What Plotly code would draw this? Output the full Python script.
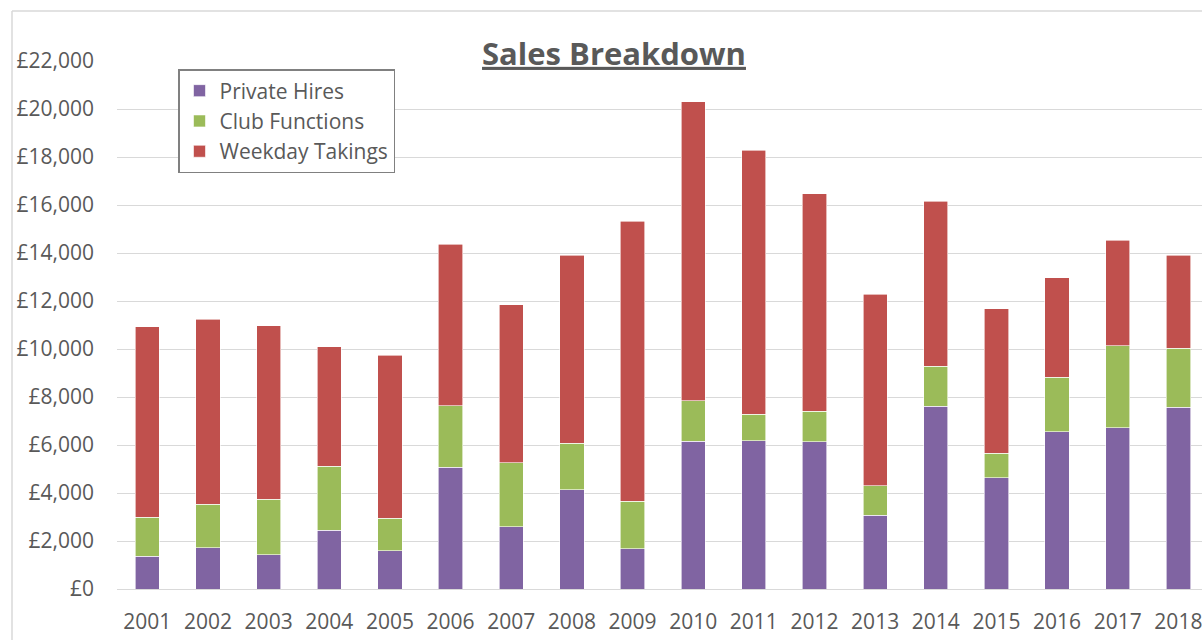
import plotly.graph_objects as go

years = [str(y) for y in range(2001, 2019)]
private_hires = [1360, 1710, 1420, 2450, 1590, 5080, 2590, 4130, 1670, 6160, 6180, 6130, 3070, 7620, 4630, 6550, 6720, 7570]
club_functions = [1630, 1820, 2320, 2670, 1360, 2560, 2680, 1950, 1990, 1680, 1110, 1280, 1230, 1660, 1030, 2270, 3410, 2470]
weekday_totals = [10920, 11250, 10960, 10100, 9740, 14370, 11850, 13910, 15330, 20300, 18290, 16470, 12290, 16160, 11680, 12960, 14530, 13910]
weekday_takings = [t - p - c for t, p, c in zip(weekday_totals, private_hires, club_functions)]

y_ticks = list(range(0, 22001, 2000))
y_tick_text = ["£{:,}".format(v) for v in y_ticks]

W, H = 1202, 640
L, R, T, B = 117, 0, 61, 51
band = 60.65
x_max = -0.5 + (W - L - R) / band

FONT = "Open Sans"
GRAY = "#595959"
FS = 21

fig = go.Figure()
fig.add_bar(x=years, y=private_hires, name="Private Hires", legendgroup="a",
            marker=dict(color="#8064A2", line=dict(color="#ffffff", width=0.6)))
fig.add_bar(x=years, y=club_functions, name="Club Functions", legendgroup="b",
            marker=dict(color="#9BBB59", line=dict(color="#ffffff", width=0.6)))
fig.add_bar(x=years, y=weekday_takings, name="Weekday Takings", legendgroup="c",
            marker=dict(color="#C0504D", line=dict(color="#ffffff", width=0.6)))

pw = W - L - R
ph = H - T - B
def px_x(x):
    return (x - L) / pw
def px_y(y):
    return (H - B - y) / ph

fig.update_layout(
    width=W, height=H,
    margin=dict(l=L, r=R, t=T, b=B, pad=0),
    barmode="stack",
    bargap=0.6,
    plot_bgcolor="white",
    paper_bgcolor="white",
    font=dict(family=FONT, color=GRAY, size=FS),
    title=dict(text="<b><u>Sales Breakdown</u></b>", x=px_x(614), xref="paper", xanchor="center",
               y=1 - 54 / H, yanchor="middle", font=dict(family=FONT, size=31, color=GRAY)),
    legend=dict(x=px_x(178), y=px_y(69), xanchor="left", yanchor="top",
                bordercolor="#808080", borderwidth=1.5, bgcolor="white",
                traceorder="normal", tracegroupgap=5, font=dict(family=FONT, size=FS, color=GRAY),
                itemwidth=30),
    xaxis=dict(type="category", range=[-0.5, x_max], showgrid=False, showline=False,
               ticks="", ticklabelstandoff=18, tickfont=dict(size=FS, color=GRAY)),
    yaxis=dict(range=[0, 22000], tickvals=y_ticks, ticktext=y_tick_text,
               showgrid=True, gridcolor="#d9d9d9", gridwidth=1.3, zeroline=True,
               zerolinecolor="#d9d9d9", zerolinewidth=1.3, ticks="", ticklabelstandoff=22,
               tickfont=dict(size=FS, color=GRAY)),
    shapes=[
        dict(type="line", xref="paper", yref="paper", x0=px_x(12), x1=px_x(W + 5), y0=px_y(11), y1=px_y(11),
             line=dict(color="#d9d9d9", width=1.5)),
        dict(type="line", xref="paper", yref="paper", x0=px_x(12), x1=px_x(12), y0=px_y(11), y1=px_y(H + 5),
             line=dict(color="#d9d9d9", width=1.5)),
    ],
    showlegend=True,
)

fig.write_html("out.html", config={"displayModeBar": False},
               post_script="document.body.style.margin='0';document.body.style.overflow='hidden';")
